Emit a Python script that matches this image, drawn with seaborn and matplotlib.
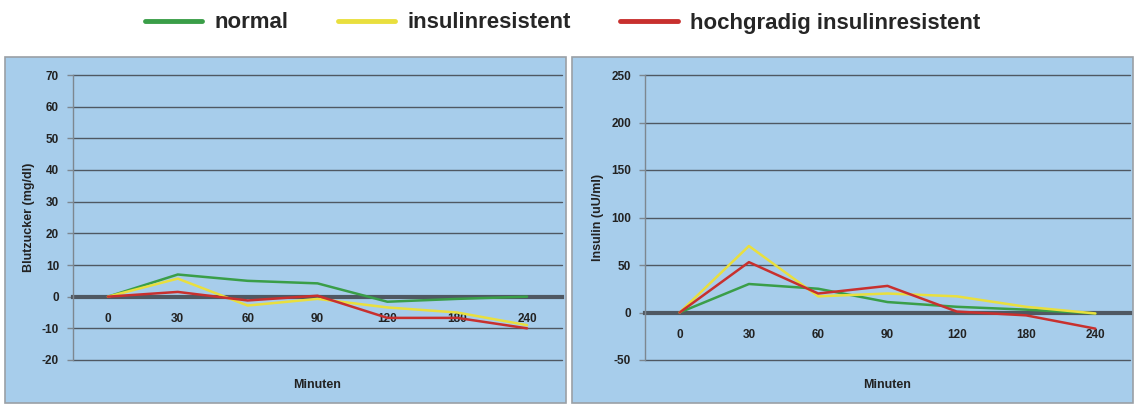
import numpy as np
import pandas as pd
import matplotlib
matplotlib.use("Agg")
import matplotlib.pyplot as plt
import seaborn as sns
from matplotlib.patches import Rectangle

# Daten
minuten = ["0", "30", "60", "90", "120", "180", "240"]
gruppen = ["normal", "insulinresistent", "hochgradig insulinresistent"]

bz_normal = [0, 7, 5, 4.2, -1.6, -0.7, 0]
bz_resistent = [0, 5.7, -2.8, -0.7, -3.4, -5, -9]
bz_hoch = [0, 1.5, -1.2, 0.3, -6.7, -6.7, -10]

ins_normal = [0, 30, 25, 11, 6, 3, -1]
ins_resistent = [0, 70, 17, 20, 17, 6, -1]
ins_hoch = [0, 53, 20, 28, 1, -3, -17]

farben = {"normal": "#3a9e48", "insulinresistent": "#e9df3e",
          "hochgradig insulinresistent": "#c8302e"}
blau = "#a7cdeb"
grau = "#4f5862"


def lang(werte):
    rows = []
    for g, w in zip(gruppen, werte):
        for m, v in zip(minuten, w):
            rows.append({"Minuten": m, "Gruppe": g, "Wert": v})
    return pd.DataFrame(rows)


df_bz = lang([bz_normal, bz_resistent, bz_hoch])
df_ins = lang([ins_normal, ins_resistent, ins_hoch])

sns.set_theme(style="white")
plt.rcParams["font.family"] = ["Liberation Sans", "DejaVu Sans"]
plt.rcParams["axes.unicode_minus"] = False

fig = plt.figure(figsize=(11.36, 4.04), dpi=100)

# Hintergrundkästen
for x0, x1 in [(5, 566), (572, 1133)]:
    fig.patches.append(Rectangle((x0 / 1136, 1 / 404), (x1 - x0) / 1136, 346 / 404,
                                 transform=fig.transFigure, facecolor=blau,
                                 edgecolor="#9aa0a6", linewidth=1.2, zorder=-10))

ax1 = fig.add_axes([73 / 1136, 1 - 360 / 404, 489 / 1136, 285 / 404])
ax2 = fig.add_axes([645 / 1136, 1 - 360 / 404, 485 / 1136, 285 / 404])


def zeichne(ax, df, ylim, step, ylabel):
    ax.set_facecolor(blau)
    sns.lineplot(data=df, x="Minuten", y="Wert", hue="Gruppe", palette=farben,
                 hue_order=gruppen, sort=False, linewidth=1.8, ax=ax, legend=False)
    ax.set_xlim(-0.5, len(minuten) - 0.5)
    ax.set_ylim(*ylim)
    ax.set_yticks(np.arange(ylim[0], ylim[1] + 1, step))
    ax.yaxis.grid(True, color=grau, linewidth=1.0)
    ax.xaxis.grid(False)
    ax.set_axisbelow(True)
    for s in ["top", "right"]:
        ax.spines[s].set_visible(False)
    ax.spines["left"].set_color("#7d8790")
    ax.spines["left"].set_linewidth(1.0)
    ax.spines["bottom"].set_position(("data", 0))
    ax.spines["bottom"].set_color(grau)
    ax.spines["bottom"].set_linewidth(3)
    ax.spines["bottom"].set_zorder(1)
    ax.tick_params(axis="x", length=0, pad=12, labelsize=8.5, colors="#222222")
    ax.tick_params(axis="y", length=4, width=1, color="#7d8790", pad=6,
                   labelsize=8.5, colors="#222222", left=True)
    for lab in ax.get_xticklabels() + ax.get_yticklabels():
        lab.set_fontweight("bold")
    for gl in ax.get_ygridlines():
        gl.set_clip_on(False)
    ax.set_xlabel("Minuten", fontsize=9, fontweight="bold", color="#222222")
    ax.xaxis.set_label_coords(0.5, -0.065)
    ax.set_ylabel(ylabel, fontsize=9, fontweight="bold", color="#222222", labelpad=5)


zeichne(ax1, df_bz, (-20, 70), 10, "Blutzucker (mg/dl)")
zeichne(ax2, df_ins, (-50, 250), 50, "Insulin (uU/ml)")

handles = [plt.Line2D([], [], color=farben[g], linewidth=3.5) for g in gruppen]
fig.legend(handles, gruppen, loc="center", bbox_to_anchor=(0.495, 1 - 23 / 404), ncol=3,
           frameon=False, handlelength=2.6, handletextpad=0.55, columnspacing=2.2,
           prop={"size": 16, "weight": "bold"})

fig.savefig("out.png", dpi=100, facecolor="white")
